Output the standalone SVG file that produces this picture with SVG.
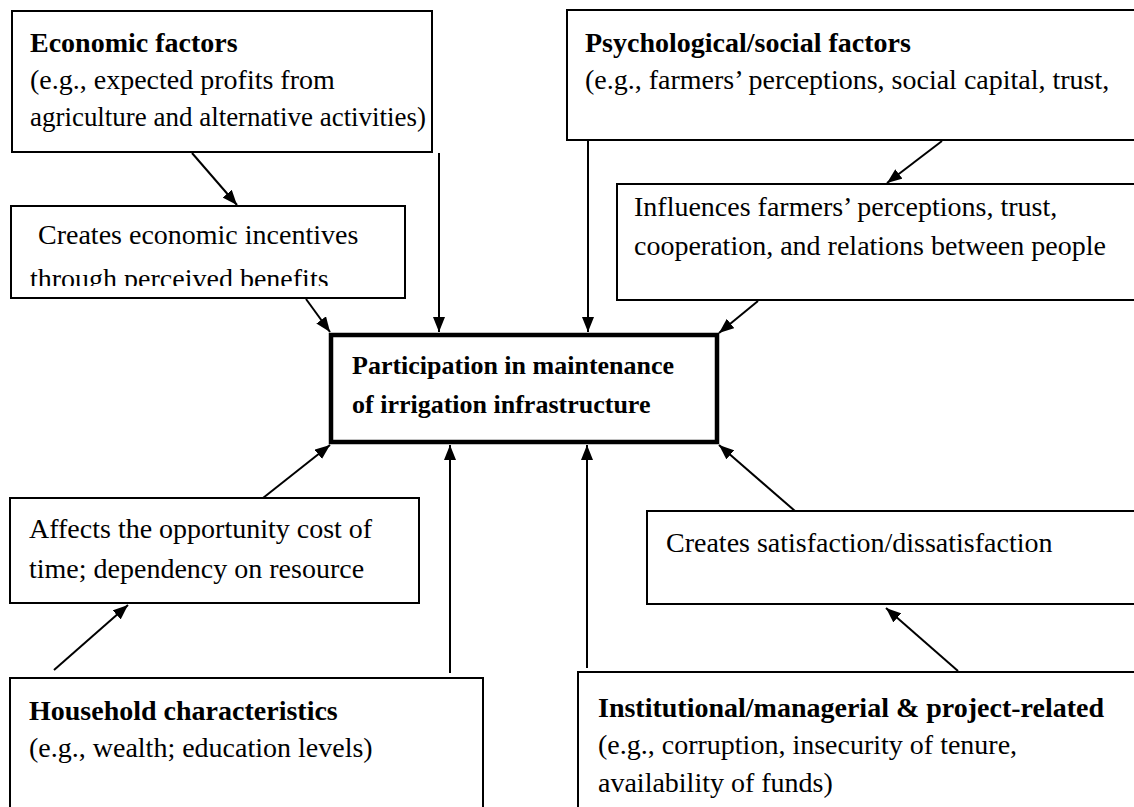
<svg xmlns="http://www.w3.org/2000/svg" width="1134" height="807" viewBox="0 0 1134 807">
<style>
.box{fill:#fff;stroke:#000;stroke-width:2}
.main{fill:#fff;stroke:#000;stroke-width:4.5}
.t{font-family:"Liberation Serif","Times New Roman",serif;font-size:28px;fill:#000}
.b{font-weight:bold}
.c{stroke:#000;stroke-width:2;fill:none;marker-end:url(#ah)}
</style>
<defs>
<marker id="ah" markerUnits="userSpaceOnUse" markerWidth="16" markerHeight="12" refX="15" refY="6" orient="auto">
<path d="M0,0 L15,6 L0,12 z" fill="#000"/>
</marker>
<clipPath id="clipInc"><rect x="11" y="206" width="394" height="80"/></clipPath>
</defs>
<rect width="1134" height="807" fill="#fff"/>
<g id="connectors">
<line class="c" x1="192" y1="153" x2="237" y2="205"/>
<line class="c" x1="439" y1="153" x2="439" y2="332"/>
<line class="c" x1="306" y1="299" x2="330" y2="332"/>
<line class="c" x1="588" y1="141" x2="588" y2="332"/>
<line class="c" x1="942" y1="141" x2="887" y2="183"/>
<line class="c" x1="758" y1="301" x2="719" y2="333"/>
<line class="c" x1="263" y1="498" x2="330" y2="445"/>
<line class="c" x1="54" y1="670" x2="128" y2="605"/>
<line class="c" x1="450" y1="673" x2="450" y2="445"/>
<line class="c" x1="587" y1="668" x2="587" y2="445"/>
<line class="c" x1="795" y1="511" x2="719" y2="445"/>
<line class="c" x1="958" y1="671" x2="886" y2="608"/>
</g>
<g id="economic">
<rect class="box" x="12" y="11" width="420" height="141"/>
<text class="t b" x="30" y="52">Economic factors</text>
<text class="t" x="30" y="89">(e.g., expected profits from</text>
<text class="t" x="30" y="126" textLength="396" lengthAdjust="spacingAndGlyphs">agriculture and alternative activities)</text>
</g>
<g id="psychological">
<rect class="box" x="567" y="10" width="580" height="130"/>
<text class="t b" x="585" y="52">Psychological/social factors</text>
<text class="t" x="585" y="89">(e.g., farmers’ perceptions, social capital, trust,</text>
</g>
<g id="incentives">
<rect class="box" x="11" y="206" width="394" height="92"/>
<g clip-path="url(#clipInc)">
<text class="t" x="31" y="244" xml:space="preserve"> Creates economic incentives</text>
<text class="t" x="30" y="288">through perceived benefits</text>
</g>
</g>
<g id="influences">
<rect class="box" x="617" y="184" width="530" height="116"/>
<text class="t" x="634" y="216">Influences farmers’ perceptions, trust,</text>
<text class="t" x="634" y="255">cooperation, and relations between people</text>
</g>
<g id="participation">
<rect class="main" x="331" y="335" width="386" height="107"/>
<text class="t b" x="352" y="374" style="font-size:26px">Participation in maintenance</text>
<text class="t b" x="352" y="413" style="font-size:26px">of irrigation infrastructure</text>
</g>
<g id="affects">
<rect class="box" x="10" y="498" width="409" height="105"/>
<text class="t" x="29" y="538">Affects the opportunity cost of</text>
<text class="t" x="29" y="578">time; dependency on resource</text>
</g>
<g id="satisfaction">
<rect class="box" x="647" y="511" width="500" height="93"/>
<text class="t" x="666" y="552">Creates satisfaction/dissatisfaction</text>
</g>
<g id="household">
<rect class="box" x="10" y="678" width="473" height="140"/>
<text class="t b" x="29" y="720">Household characteristics</text>
<text class="t" x="29" y="757">(e.g., wealth; education levels)</text>
</g>
<g id="institutional">
<rect class="box" x="578" y="672" width="570" height="145"/>
<text class="t b" x="598" y="717">Institutional/managerial &amp; project-related</text>
<text class="t" x="598" y="754">(e.g., corruption, insecurity of tenure,</text>
<text class="t" x="598" y="792">availability of funds)</text>
</g>
</svg>
